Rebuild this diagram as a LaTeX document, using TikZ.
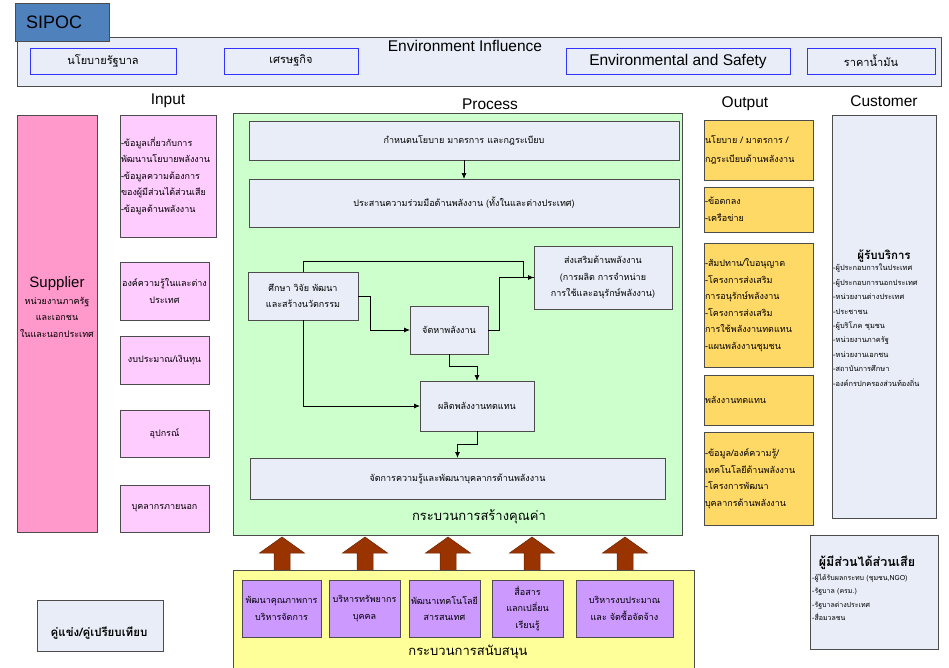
\documentclass[tikz,border=0pt]{standalone}
\usepackage{fontspec}
\setmainfont{Liberation Sans}
\newfontfamily\thaifont[Script=Thai]{Loma}
\usetikzlibrary{arrows.meta}

\definecolor{sipocblue}{HTML}{4F81BD}
\definecolor{paleblue}{HTML}{E8EDF7}
\definecolor{envframe}{HTML}{3333FF}
\definecolor{supplierpink}{HTML}{FF99CC}
\definecolor{inputpink}{HTML}{FFCCFF}
\definecolor{processgreen}{HTML}{CCFFCC}
\definecolor{outputgold}{HTML}{FFD966}
\definecolor{supportyellow}{HTML}{FFFF99}
\definecolor{supportviolet}{HTML}{CC99FF}
\definecolor{arrowbrown}{HTML}{993300}

\newcommand\thaiS{\thaifont\fontsize{9}{16.5}\selectfont}
\newcommand\thaiM{\thaifont\fontsize{11}{13}\selectfont}
\newcommand\thaiXS{\thaifont\fontsize{7.4}{14.4}\selectfont}
\newcommand\thaiL{\thaifont\fontsize{13}{16}\selectfont}
\newcommand\headfont{\fontsize{15.5}{18}\selectfont}

\begin{document}
\begin{tikzpicture}[x=1pt,y=-1pt,
  frame/.style={draw=black!70, line width=0.8pt, anchor=north west,
                inner sep=0pt, outer sep=0pt},
  envbox/.style={frame, draw=envframe, fill=paleblue, font=\thaiM},
  pbox/.style={frame, fill=paleblue, font=\thaiS, align=center},
  inbox/.style={frame, fill=inputpink, font=\thaiS, align=center},
  outbox/.style={frame, fill=outputgold, font=\thaiS, align=left,
                 inner xsep=1pt},
  supbox/.style={frame, fill=supportviolet, font=\thaiS, align=center},
  heading/.style={font=\headfont, inner sep=0pt},
  flow/.style={-{Latex[length=6pt,width=5pt]}, line width=0.8pt},
  link/.style={line width=0.8pt},
  blockarrow/.style={fill=arrowbrown, draw=arrowbrown!70!black, line width=0.5pt}
]
\useasboundingbox (0,0) rectangle (949,667);

% ---------- environment band ----------
\node[frame, fill=paleblue, minimum width=924, minimum height=49] (env) at (17,37) {};
\node[heading] (envtitle) at (465,46) {Environment Influence};
\node[envbox, minimum width=146, minimum height=26] (gov) at (30,48) {นโยบายรัฐบาล};
\node[envbox, minimum width=134, minimum height=26] (eco) at (224,48) {เศรษฐกิจ};
\node[envbox, minimum width=224, minimum height=26, font=\headfont] (ens) at (566,48) {Environmental and Safety};
\node[envbox, minimum width=128, minimum height=26] (oil) at (807,48) {ราคาน้ำมัน};

\node[frame, fill=sipocblue, minimum width=94, minimum height=38,
      font=\fontsize{18}{20}\selectfont, align=left, text width=72, inner xsep=11pt] (sipoc) at (15,3) {SIPOC};

% ---------- column headings ----------
\node[heading] (hin) at (168,101) {Input};
\node[heading] (hpr) at (490,104) {Process};
\node[heading] (hout) at (745,104) {Output};
\node[heading] (hcu) at (884,101) {Customer};

% ---------- supplier ----------
\node[frame, fill=supplierpink, minimum width=80, minimum height=417] (sup) at (17,115) {};
\node[align=center, font=\thaiS, inner sep=0pt] (suptext) at (57,307)
  {{\rmfamily\fontsize{15}{17}\selectfont Supplier}\\
   หน่วยงานภาครัฐ\\ และเอกชน\\ ในและนอกประเทศ};

% ---------- input ----------
\node[inbox, align=left, text width=94, inner xsep=1pt, minimum height=122] (in1) at (120,115)
  {-ข้อมูลเกี่ยวกับการ\\ พัฒนานโยบายพลังงาน\\ -ข้อมูลความต้องการ\\ ของผู้มีส่วนได้ส่วนเสีย\\ -ข้อมูลด้านพลังงาน\\[32pt]};
\node[inbox, minimum width=89, minimum height=58] (in2) at (120,262) {องค์ความรู้ในและต่าง\\ ประเทศ};
\node[inbox, minimum width=89, minimum height=48] (in3) at (120,336) {งบประมาณ/เงินทุน};
\node[inbox, minimum width=89, minimum height=47] (in4) at (120,410) {อุปกรณ์};
\node[inbox, minimum width=89, minimum height=47] (in5) at (120,485) {บุคลากรภายนอก};

% ---------- process ----------
\node[frame, fill=processgreen, minimum width=449, minimum height=422] (proc) at (233,113) {};
\node[pbox, minimum width=430, minimum height=39] (A) at (249,121) {กำหนดนโยบาย มาตรการ และกฎระเบียบ};
\node[pbox, minimum width=430, minimum height=48] (B) at (249,179) {ประสานความร่วมมือด้านพลังงาน (ทั้งในและต่างประเทศ)};
\node[pbox, minimum width=110, minimum height=48] (C) at (248,272) {ศึกษา วิจัย พัฒนา\\ และสร้างนวัตกรรม};
\node[pbox, minimum width=78, minimum height=48] (D) at (410,306) {จัดหาพลังงาน};
\node[pbox, minimum width=138, minimum height=63] (E) at (534,246) {ส่งเสริมด้านพลังงาน\\ (การผลิต การจำหน่าย\\ การใช้และอนุรักษ์พลังงาน)};
\node[pbox, minimum width=114, minimum height=50] (F) at (420,381) {ผลิตพลังงานทดแทน};
\node[pbox, minimum width=415, minimum height=41] (G) at (250,458) {จัดการความรู้และพัฒนาบุคลากรด้านพลังงาน};
\node[font=\thaiL, inner sep=0pt] (proclabel) at (479,517) {กระบวนการสร้างคุณค่า};

\draw[flow] (A.south) -- (B.north);
\draw[flow] (C.north) -- ++(0,-11) -| ([xshift=-11pt]E.west) -- (E.west);
\draw[link] (D.east) -- ++(11,0) |- (E.west);
\draw[flow] (C.east) -- ++(12,0) |- (D.west);
\draw[flow] (C.south) |- (F.west);
\draw[flow] (D.south) -- ++(0,12) -| (F.north);
\draw[flow] (F.south) -- ++(0,13) -| (G.north);

% ---------- output ----------
\node[outbox, text width=107, minimum height=60] (o1) at (704,120)
  {นโยบาย / มาตรการ /\\[3pt] กฎระเบียบด้านพลังงาน};
\node[outbox, text width=107, minimum height=45] (o2) at (704,187)
  {-ข้อตกลง\\ -เครือข่าย};
\node[outbox, text width=107, minimum height=124] (o3) at (704,243)
  {-สัมปทาน/ใบอนุญาต\\ -โครงการส่งเสริม\\ การอนุรักษ์พลังงาน\\ -โครงการส่งเสริม\\ การใช้พลังงานทดแทน\\ -แผนพลังงานชุมชน};
\node[outbox, text width=107, minimum height=50] (o4) at (704,375) {พลังงานทดแทน};
\node[outbox, text width=107, minimum height=93] (o5) at (704,432)
  {-ข้อมูล/องค์ความรู้/\\ เทคโนโลยีด้านพลังงาน\\ -โครงการพัฒนา\\ บุคลากรด้านพลังงาน\\[22pt]};

% ---------- customer ----------
\node[frame, fill=paleblue, minimum width=104, minimum height=403] (cust) at (832,115) {};
\node[font=\thaifont\fontsize{11.5}{13}\selectfont\bfseries, inner sep=0pt] (custtitle) at (884,256) {ผู้รับบริการ};
\node[font=\thaiXS, align=left, anchor=north west, inner sep=0pt] (custlist) at (833,264)
  {-ผู้ประกอบการในประเทศ\\ -ผู้ประกอบการนอกประเทศ\\ -หน่วยงานต่างประเทศ\\ -ประชาชน\\ -ผู้บริโภค ชุมชน\\ -หน่วยงานภาครัฐ\\ -หน่วยงานเอกชน\\ -สถาบันการศึกษา\\ -องค์กรปกครองส่วนท้องถิ่น};

% ---------- stakeholders ----------
\node[frame, fill=paleblue, minimum width=128, minimum height=114] (stake) at (810,535) {};
\node[font=\thaifont\fontsize{12.5}{14}\selectfont\bfseries, inner sep=0pt] (staketitle) at (867,563) {ผู้มีส่วนได้ส่วนเสีย};
\node[font=\thaifont\fontsize{7}{13.5}\selectfont, align=left, anchor=north west, inner sep=0pt] (stakelist) at (812,574)
  {-ผู้ได้รับผลกระทบ (ชุมชน,NGO)\\ -รัฐบาล (ครม.)\\ -รัฐบาลต่างประเทศ\\ -สื่อมวลชน};

% ---------- competitors ----------
\node[frame, fill=paleblue, minimum width=126, minimum height=51] (comp) at (37,600) {};
\node[font=\thaifont\fontsize{11.5}{13}\selectfont\bfseries, inner sep=0pt] (comptext) at (99,633) {คู่แข่ง/คู่เปรียบเทียบ};

% ---------- support processes ----------
\foreach \x in {282,365,448,532,625}
  \filldraw[blockarrow] (\x-8,574) -- (\x-8,553) -- (\x-22.5,553) -- (\x,537)
     -- (\x+22.5,553) -- (\x+8,553) -- (\x+8,574) -- cycle;

\node[frame, fill=supportyellow, minimum width=461, minimum height=105] (support) at (233,570) {};
\node[supbox, minimum width=79, minimum height=57] (s1) at (242,580) {พัฒนาคุณภาพการ\\ บริหารจัดการ};
\node[supbox, minimum width=71, minimum height=57] (s2) at (329,580) {บริหารทรัพยากร\\ บุคคล};
\node[supbox, minimum width=71, minimum height=57] (s3) at (409,580) {พัฒนาเทคโนโลยี\\ สารสนเทศ};
\node[supbox, minimum width=71, minimum height=57] (s4) at (492,580) {สื่อสาร\\ แลกเปลี่ยน\\ เรียนรู้};
\node[supbox, minimum width=97, minimum height=57] (s5) at (576,580) {บริหารงบประมาณ\\ และ จัดซื้อจัดจ้าง};
\node[font=\thaiL, inner sep=0pt] (suplabel) at (468,652) {กระบวนการสนับสนุน};
\end{tikzpicture}
\end{document}
